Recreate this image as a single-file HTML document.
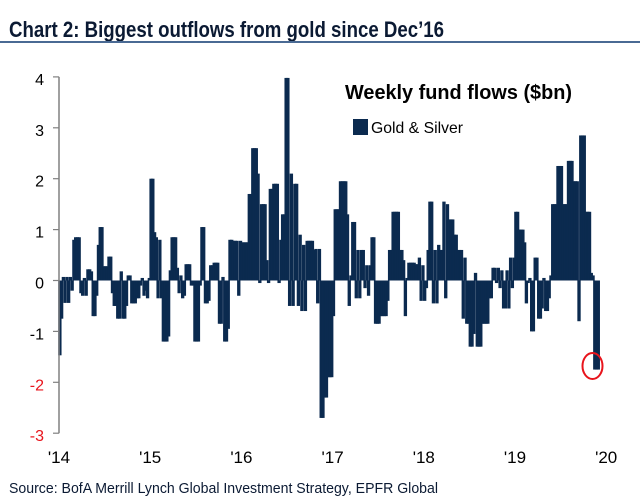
<!DOCTYPE html>
<html><head><meta charset="utf-8"><style>
html,body{margin:0;padding:0;background:#fff;}
svg{display:block;font-family:"Liberation Sans",sans-serif;}
</style></head><body>
<svg id="chart" width="640" height="500" viewBox="0 0 640 500" xmlns="http://www.w3.org/2000/svg">
<text x="9" y="37" font-size="22" font-weight="bold" fill="#0b1a33" textLength="435" lengthAdjust="spacingAndGlyphs">Chart 2: Biggest outflows from gold since Dec’16</text>
<rect x="0" y="41" width="640" height="2" fill="#4a6a94"/>
<g id="bars"></g>
<g id="axis"></g>
<g id="xlabels"></g>
<ellipse cx="592.5" cy="366" rx="10" ry="13" fill="none" stroke="#e8141c" stroke-width="2"/>
<text x="345" y="99" font-size="20" font-weight="bold" fill="#000" textLength="227" lengthAdjust="spacingAndGlyphs">Weekly fund flows ($bn)</text>
<rect x="353" y="119" width="15" height="16" fill="#0b2a4f"/>
<text x="371" y="133" font-size="16" fill="#000" textLength="92" lengthAdjust="spacingAndGlyphs">Gold &amp; Silver</text>
<text x="9" y="493" font-size="15" fill="#0b1a33" textLength="429" lengthAdjust="spacingAndGlyphs">Source:  BofA Merrill Lynch Global Investment Strategy, EPFR Global</text>
</svg>
<script>
const years = ["'14","'15","'16","'17","'18","'19","'20"];
const yTicks = [4,3,2,1,0,-1,-2,-3];
const flows2014 = [-1.47,-0.75,0.07,-0.44,0.07,-0.44,0.07,-0.2,0.8,0.85,0.85,0.85,-0.25,-0.3,0.05,-0.3,0.22,0.22,0.18,-0.7,-0.7,-0.3,0.7,1.05,1.05,0.28,0.28,0.28,0.47,0.47,-0.25,-0.5,-0.5,-0.75,-0.75,0.18,-0.75,-0.75,-0.5,0.1,0.1,-0.45,-0.45,-0.45,-0.35,-0.35,-0.1,0.05,-0.3,-0.2,-0.35,0.05];
const flows2015 = [2.0,2.0,0.95,0.85,-0.35,0.8,-0.35,-1.2,-1.2,-1.2,-1.1,0.2,0.85,0.85,0.85,0.25,-0.25,0.1,-0.35,-0.3,0.32,0.32,0.32,-0.1,-0.1,-1.2,-1.2,-1.2,-0.1,1.05,1.05,-0.45,-0.45,-0.4,0.3,0.3,0.35,0.35,0.35,-0.85,-0.85,0.07,-1.2,-1.2,-0.95,0.8,0.8,0.78,0.78,0.78,-0.3,0.78];
const flows2016 = [0.75,0.75,0.75,0.75,1.7,1.7,2.6,2.6,2.6,2.1,-0.05,1.5,1.5,1.5,0.4,-0.05,1.8,1.8,1.9,1.9,1.9,-0.05,0.8,1.3,1.3,3.98,3.98,-0.5,2.1,-0.5,1.9,1.9,-0.5,0.9,-0.6,0.7,-0.6,0.78,0.78,0.78,0.78,0.6,0.62,-0.45,0.62,-2.7,-2.7,-2.3,-2.3,-1.9,-1.9,-1.9];
const flows2017 = [-0.7,1.4,1.4,1.4,1.95,1.95,1.95,1.95,1.3,-0.5,0.1,1.15,1.15,-0.35,0.6,-0.35,0.6,0.6,-0.15,0.3,-0.3,0.3,0.85,0.85,-0.85,-0.85,-0.85,-0.7,-0.7,-0.7,-0.7,-0.4,0.6,0.6,1.35,1.35,1.35,1.35,0.6,0.6,0.4,-0.7,0.05,0.35,0.35,0.35,0.35,0.32,0.32,0.45,-0.4,0.3];
const flows2018 = [-0.4,-0.15,0.6,1.55,1.55,-0.45,0.6,-0.45,0.7,0.6,0.6,1.55,-0.35,1.5,1.2,1.2,1.2,0.9,0.9,0.6,0.6,0.6,-0.75,0.45,-0.85,-0.85,-1.3,-1.3,-1.05,0.15,-1.3,-1.3,-1.3,-0.85,-0.85,-0.85,-0.85,-0.35,-0.35,0.25,0.25,-0.05,0.25,-0.15,0.2,-0.55,-0.55,0.2,-0.55,0.45,-0.15,0.45];
const flows2019 = [1.35,1.35,1.0,1.0,1.0,0.75,-0.45,-0.05,0.05,-1.0,-1.0,0.45,0.45,-0.75,-0.75,-0.55,0.05,-0.6,-0.6,-0.35,0.1,1.5,1.5,1.5,2.25,2.25,2.25,1.5,1.5,1.5,2.35,2.35,2.35,1.95,1.95,1.95,-0.8,2.85,2.85,2.85,1.35,1.35,1.35,0.15,0.1,-1.75,-1.75,-1.75];
const flowsByYear = [flows2014,flows2015,flows2016,flows2017,flows2018,flows2019];

const NS = "http://www.w3.org/2000/svg";
const X0 = 59, YEARW = 91.2, WEEKS = 52;
const Y0 = 280.5, UNIT = 50.9;
function xScale(yearIdx, week){ return X0 + (yearIdx + week/WEEKS) * YEARW; }
function yScale(v){ return Y0 - v*UNIT; }
function mk(tag, attrs){ const e=document.createElementNS(NS,tag); for(const k in attrs) e.setAttribute(k,attrs[k]); return e; }

const barsG = document.getElementById('bars');
flowsByYear.forEach((arr, yi) => {
  arr.forEach((v, w) => {
    const x1 = xScale(yi, w), x2 = xScale(yi, w+1);
    const step = x2 - x1;
    const y = Math.min(yScale(v), yScale(0)), h = Math.abs(yScale(v)-yScale(0));
    const r = mk('rect', {x:(x1-step*0.45).toFixed(2), y:y.toFixed(2), width:(step*1.9).toFixed(2), height:Math.max(h,0.5).toFixed(2), fill:'#0b2a4f'});
    
    
    barsG.appendChild(r);
  });
});

const axisG = document.getElementById('axis');
const axLine = mk('line', {x1:X0, y1:yScale(4), x2:X0, y2:yScale(-3), stroke:'#808080', 'stroke-width':1.5});


axisG.appendChild(axLine);
yTicks.forEach(t => {
  const tk = mk('line', {x1:X0-6, y1:yScale(t), x2:X0, y2:yScale(t), stroke:'#808080', 'stroke-width':1.2});
  
  
  axisG.appendChild(tk);
  const lb = mk('text', {x:44, y:yScale(t)+8, 'font-size':16, 'text-anchor':'end', fill: t<=-2 ? '#e8141c' : '#000'});
  lb.textContent = String(t);
  
  
  axisG.appendChild(lb);
});

const xg = document.getElementById('xlabels');
years.forEach((yl, i) => {
  const t = mk('text', {x:xScale(i,0), y:463, 'font-size':17, 'text-anchor':'middle', fill:'#000'});
  t.textContent = yl;
  
  
  xg.appendChild(t);
});
</script>
</body></html>
